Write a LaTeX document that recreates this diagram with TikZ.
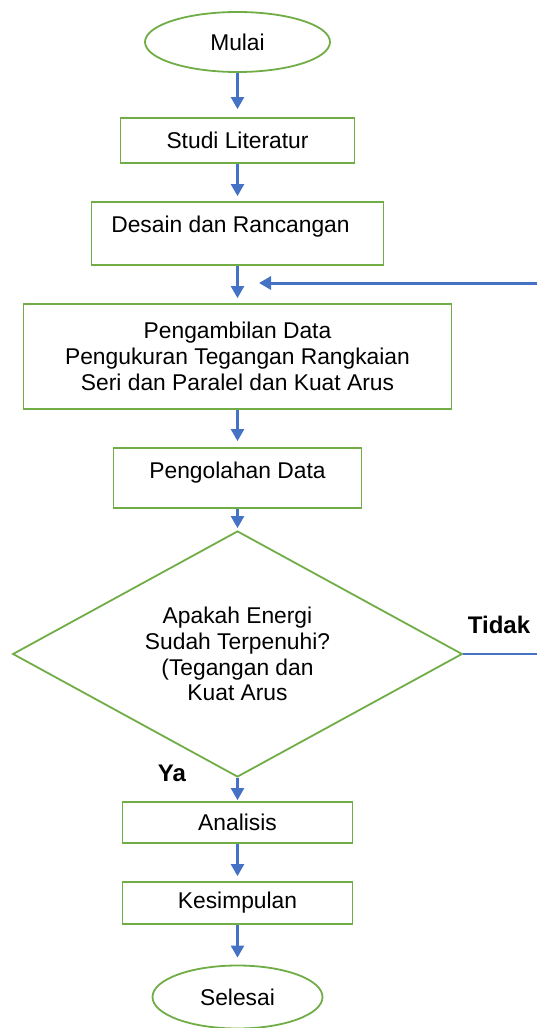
\documentclass[tikz,border=0pt]{standalone}
\usepackage{fontspec}
\setmainfont{Liberation Sans}
\usepackage{tikz}
\usetikzlibrary{arrows.meta, shapes.geometric}
\definecolor{hijau}{HTML}{70AD47}
\definecolor{biru}{HTML}{4472C4}

\begin{document}
\begin{tikzpicture}[
  x=0.5pt, y=-0.5pt,
  >={Triangle[width=6.5pt, length=6pt]},
  proses/.style={draw=hijau, line width=0.9pt, rectangle, minimum width=117pt,
    minimum height=22.5pt, font=\fontsize{11.4}{12.9}\selectfont, align=center},
  terminal/.style={draw=hijau, line width=0.9pt, ellipse, inner sep=0pt,
    font=\fontsize{11.4}{12.9}\selectfont},
  keputusan/.style={draw=hijau, line width=0.9pt, diamond, aspect=1.8,
    inner sep=0pt, font=\fontsize{11.4}{12.9}\selectfont, align=center},
  panah/.style={->, biru, line width=1.2pt, shorten >=2.5pt},
  cabang/.style={font=\bfseries\fontsize{12}{14}\selectfont}
]

% batas gambar
\useasboundingbox (0,0) rectangle (537,1028);

% Alur utama
\node[terminal, minimum width=92.5pt, minimum height=30pt] (mulai) at (237.5,42) {Mulai};
\node[proses] (studi) at (237.5,140.5) {Studi Literatur};
\node[proses, minimum width=146pt, minimum height=31.5pt, text depth=9.5pt] (desain) at (237.5,233.5) {\hbox{Desain dan Rancangan\kern7pt}};
\node[proses, minimum width=214pt, minimum height=52.5pt] (ambil) at (237.5,356.5)
  {Pengambilan Data\\ Pengukuran Tegangan Rangkaian\\ Seri dan Paralel dan Kuat Arus};
\node[proses, minimum width=124pt, minimum height=30pt, text depth=7.5pt] (olah) at (237.5,478) {Pengolahan Data};

% Keputusan
\node[keputusan, minimum width=224.8pt, minimum height=123pt] (cek) at (237.5,654)
  {Apakah Energi\\ Sudah Terpenuhi?\\ (Tegangan dan\\ Kuat Arus};
\node[cabang] (tidak) at (499,625) {Tidak};
\node[cabang] (ya) at (172,773) {Ya};

% Akhir
\node[proses, minimum width=115pt, minimum height=20.5pt] (analisis) at (237.5,822.5) {Analisis};
\node[proses, minimum width=115pt, minimum height=21pt] (simpul) at (237.5,903) {Kesimpulan};
\node[terminal, minimum width=85pt, minimum height=31.5pt] (selesai) at (237.5,997) {Selesai};

% Panah
\draw[panah, shorten >=4pt] (mulai) -- (studi);
\draw[panah] (studi) -- (desain);
\draw[panah] (desain) -- (ambil);
\draw[panah, shorten >=3pt] (ambil) -- (olah);
\draw[panah, shorten >=1pt] (olah) -- (cek);
\draw[panah, shorten >=0.5pt] (cek) -- (analisis);
\draw[panah] (analisis) -- (simpul);
\draw[panah, shorten >=3.5pt] (simpul) -- (selesai);

% Kembali bila Tidak
\coordinate (kanan1) at (537,283);
\coordinate (kanan2) at (537,654);
\coordinate (masuk) at (259,283);
\draw[biru, line width=1pt] (cek.east) -- (kanan2);
\draw[->, biru, line width=1.5pt] (kanan1) -- (masuk);

\end{tikzpicture}
\end{document}
